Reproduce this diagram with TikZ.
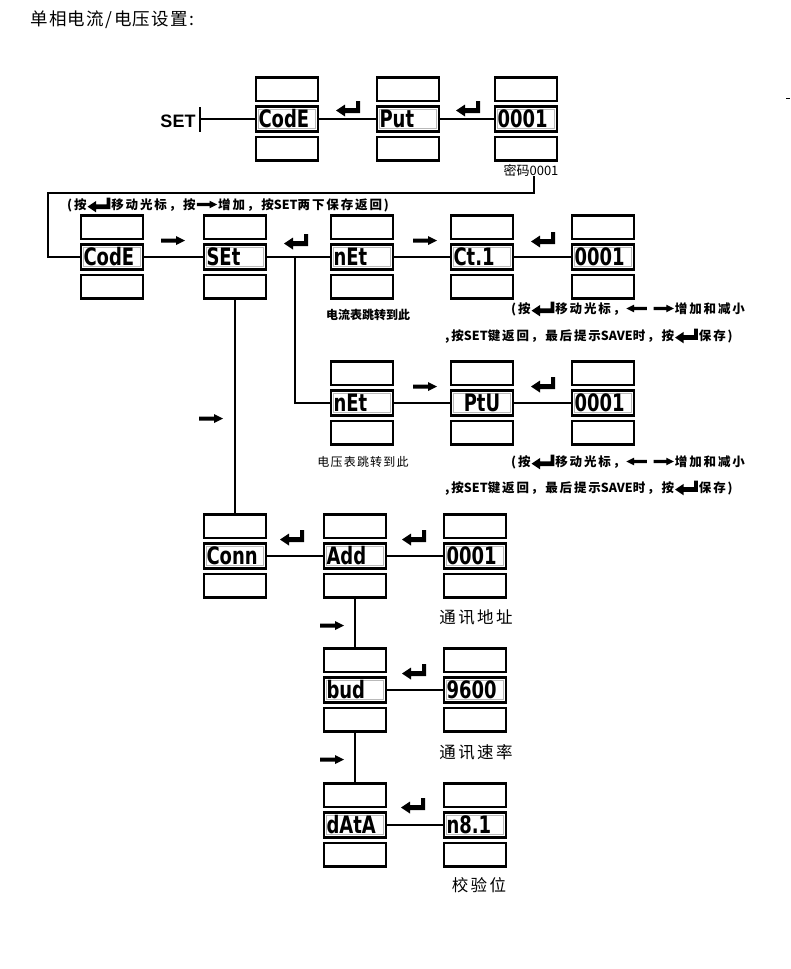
\documentclass[tikz,border=0pt]{standalone}
\usepackage{fontspec}
\newfontfamily\cjk{Noto Sans CJK SC}
\newfontfamily\segfont{DejaVu Sans}[FakeStretch=0.75]
\newfontfamily\latfont{Liberation Sans}
\usetikzlibrary{positioning}
\tikzset{
  enterkey/.pic={\fill (24,0) -- (24,12) -- (9,12) -- (9,15.5) -- (0,9.5) -- (9,3.5) -- (9,7) -- (20,7) -- (20,0) -- cycle;},
  rightkey/.pic={\fill (0,2.5) -- (15,2.5) -- (15,0) -- (24,4.5) -- (15,9) -- (15,6.5) -- (0,6.5) -- cycle;},
  leftkey/.pic={\fill (24,2.5) -- (9,2.5) -- (9,0) -- (0,4.5) -- (9,9) -- (9,6.5) -- (24,6.5) -- cycle;},
}
\newcommand\kenter{\hspace{1pt}\tikz[x=0.95pt,y=-0.95pt,baseline={(0,12)}]\pic{enterkey};\hspace{1pt}}
\newcommand\kright{\hspace{1pt}\tikz[x=0.85pt,y=-0.85pt,baseline={(0,9)}]\pic{rightkey};\hspace{1pt}}
\newcommand\kleft{\hspace{1pt}\tikz[x=0.85pt,y=-0.85pt,baseline={(0,9)}]\pic{leftkey};\hspace{1pt}}
\newcommand\lat[1]{{\addfontfeature{LetterSpace=0}#1}}
\begin{document}
\begin{tikzpicture}[x=1pt,y=-1pt,
  box/.style={draw, line width=2.6pt, minimum width=62pt, minimum height=23.5pt, inner sep=0pt},
  disp/.style={box, minimum height=24.5pt, text width=57pt, align=left,
    font=\segfont\bfseries\fontsize{24}{24}\selectfont,
    path picture={\draw[gray!55, line width=1pt]
      ([shift={(2.3pt,-2.3pt)}]path picture bounding box.north west) rectangle
      ([shift={(-2.3pt,2.3pt)}]path picture bounding box.south east);}},
  wire/.style={line width=2.4pt},
  note/.style={font=\cjk\bfseries\fontsize{12.5}{14}\selectfont\addfontfeature{LetterSpace=15}, inner sep=0pt},
  hint/.style={font=\cjk\fontsize{12}{14}\selectfont\addfontfeature{LetterSpace=10}, inner sep=0pt},
  tag/.style={font=\cjk\fontsize{16.5}{18}\selectfont\addfontfeature{LetterSpace=15}, inner sep=0pt},
]
\useasboundingbox (0,0) rectangle (790,969);
\node[anchor=west, inner sep=0pt, font=\cjk\fontsize{17.5}{18}\selectfont\addfontfeature{LetterSpace=8}] (title) at (30,20) {单相电流/电压设置:};
\draw[line width=1pt] (786,98) -- (790,98);
% password
\node[inner sep=0pt, font=\latfont\bfseries\fontsize{18}{18}\selectfont] (setkey) at (178,121) {SET};
\coordinate (setbar) at (200,119);
\draw[wire] ([yshift=12pt]setbar) -- ([yshift=-13pt]setbar);
\node[disp] (code0) at (287,119) {CodE};
\node[disp] (put0) at (408,119) {Put};
\node[disp] (pass0) at (526,119) {0001};
\node[hint, font=\cjk\fontsize{13}{14}\selectfont] (pwtag) at (531,170) {密码0001};
% current / voltage
\node[disp] (code1) at (112,257) {CodE};
\node[disp] (set1) at (235,257) {SEt};
\node[disp] (net1) at (362,257) {nEt};
\node[disp] (ct1) at (482,257) {Ct.1};
\node[disp] (val1) at (603,257) {0001};
\node[disp] (net2) at (362,403) {nEt};
\node[disp, align=center] (ptu2) at (482,403) {PtU};
\node[disp] (val2) at (603,403) {0001};
% communication
\node[disp] (connu) at (235,556) {Conn};
\node[disp] (addr) at (355,556) {Add};
\node[disp] (addrval) at (475,556) {0001};
\node[disp] (bud) at (355,690) {bud};
\node[disp] (budval) at (475,690) {9600};
\node[disp] (data) at (355,825) {dAtA};
\node[disp] (dataval) at (475,825) {n8.1};
\foreach \n in {code0,put0,pass0,code1,set1,net1,ct1,val1,net2,ptu2,val2,connu,addr,addrval,bud,budval,data,dataval} {
  \node[box, above=3pt of \n] (\n-t) {};
  \node[box, below=3pt of \n] (\n-b) {};
}
% wires
\draw[wire] (setbar) -- (code0) -- (put0) -- (pass0);
\draw[wire] ([xshift=3pt]pwtag.south) |- (48,193) |- (code1);
\draw[wire] (code1) -- (set1) -- (net1) -- (ct1) -- (val1);
\coordinate (jn) at (295,257);
\draw[wire] (jn) |- (net2);
\draw[wire] (net2) -- (ptu2) -- (val2);
\draw[wire] (set1-b) -- (connu-t);
\draw[wire] (connu) -- (addr) -- (addrval);
\draw[wire] (addr-b) -- (bud-t);
\draw[wire] (bud) -- (budval);
\draw[wire] (bud-b) -- (data-t);
\draw[wire] (data) -- (dataval);
% keys
\pic at (336,101) {enterkey};
\pic at (456,101) {enterkey};
\pic at (161,236) {rightkey};
\pic at (284,234) {enterkey};
\pic at (413,236) {rightkey};
\pic at (531,232) {enterkey};
\pic at (413,382) {rightkey};
\pic at (531,377) {enterkey};
\pic at (199,414) {rightkey};
\pic at (280,530) {enterkey};
\pic at (402,530) {enterkey};
\pic at (320,621) {rightkey};
\pic at (402,664) {enterkey};
\pic at (320,755) {rightkey};
\pic at (401,798) {enterkey};
% notes
\node[note, anchor=west] (hint0) at (67,205) {(按\kenter 移动光标，按\kright 增加，按\lat{SET}两下保存返回)};
\node[hint, font=\cjk\bfseries\fontsize{12}{14}\selectfont] (jump1) at (368,315) {电流表跳转到此};
\node[note, anchor=west] (hint1a) at (511,309) {(按\kenter 移动光标，\kleft\ \kright 增加和减小};
\node[note, anchor=west] (hint1b) at (445,336) {,按\lat{SET}键返回，最后提示\lat{SAVE}时，按\kenter 保存)};
\node[hint] (jump2) at (363,462) {电压表跳转到此};
\node[note, anchor=west] (hint2a) at (511,462) {(按\kenter 移动光标，\kleft\ \kright 增加和减小};
\node[note, anchor=west] (hint2b) at (445,488) {,按\lat{SET}键返回，最后提示\lat{SAVE}时，按\kenter 保存)};
\node[tag] (addrtag) at (476,617) {通讯地址};
\node[tag] (budtag) at (476,752) {通讯速率};
\node[tag] (datatag) at (479,885) {校验位};
\end{tikzpicture}
\end{document}
